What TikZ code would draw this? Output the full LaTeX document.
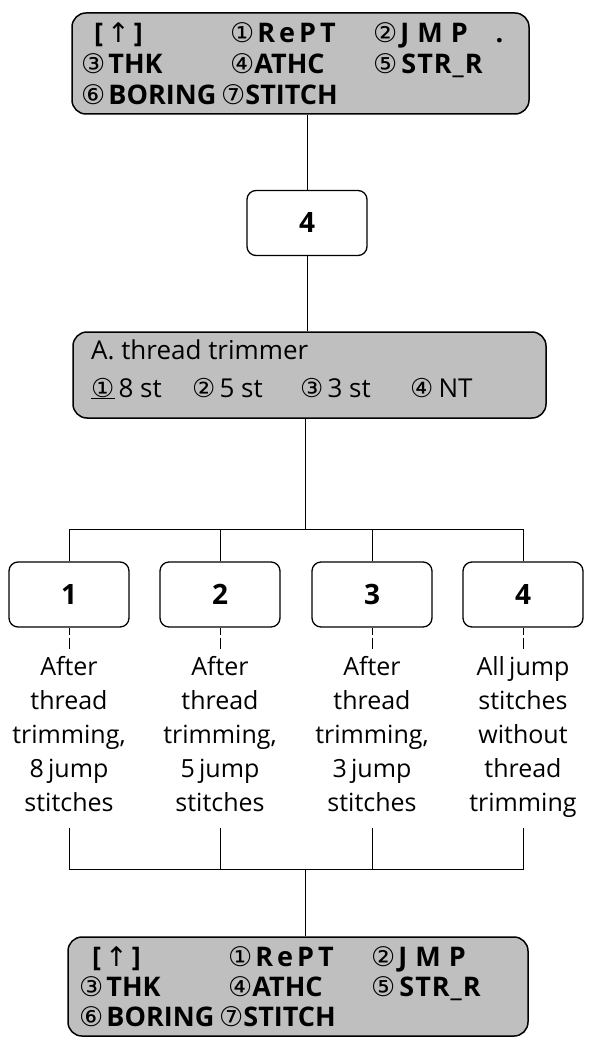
\documentclass[tikz,border=0pt]{standalone}
\usepackage{fontspec}
\setmainfont{Open Sans}
\newfontfamily\symfont{DejaVu Sans}
\newcommand{\cd}[1]{{\symfont\mdseries #1}}
\newcommand{\gapx}[1]{\hspace{#1pt}}
\begin{document}
\begin{tikzpicture}[x=1pt,y=-1pt,
  lcd/.style={draw, line width=1.5pt, rounded corners=14pt, fill=black!25, inner sep=0pt},
  lcdtxt/.style={anchor=base west, inner sep=0pt, font=\bfseries\fontsize{27}{27}\selectfont},
  lcdtxtb/.style={anchor=base west, inner sep=0pt, font=\fontsize{26}{26}\selectfont},
  numbox/.style={draw, line width=1.3pt, rounded corners=9pt, minimum width=120pt, minimum height=65pt, inner sep=0pt, font=\bfseries\fontsize{28}{28}\selectfont},
  desc/.style={align=center, anchor=north, inner sep=0pt, font=\fontsize{25}{34}\selectfont},
  conn/.style={line width=0.9pt},
  tickline/.style={line width=0.9pt, dash pattern=on 7pt off 3pt on 12pt off 2pt}
]
\useasboundingbox (0,0) rectangle (593,1040);

% top LCD
\node[lcd, minimum width=457pt, minimum height=101pt] (lcdA) at (300.5,63.5) {};
\node[lcdtxt] (a1) at (94,43) {[\gapx{4}\cd{↑}\gapx{4}]};
\node[lcdtxt] (a2) at (230,43) {\cd{①}\gapx{3}R\gapx{4}e\gapx{4}P\gapx{4}T};
\node[lcdtxt] (a3) at (373,43) {\cd{②}\gapx{3}J\gapx{8}M\gapx{8}P\gapx{28}.};
\node[lcdtxt] (a4) at (81,74) {\cd{③}\gapx{3}THK};
\node[lcdtxt] (a5) at (230,74) {\cd{④}ATHC};
\node[lcdtxt] (a6) at (373,74) {\cd{⑤}\gapx{4}S\gapx{1}T\gapx{1}R\gapx{1}\_\gapx{1}R};
\node[lcdtxt] (a7) at (81,105) {\cd{⑥}\gapx{3}BORING};
\node[lcdtxt] (a8) at (221,105) {\cd{⑦}STITCH};

% box 4
\node[numbox] (sel) at (307,223) {4};

% second LCD
\node[lcd, minimum width=473pt, minimum height=86pt] (lcdB) at (309.5,375) {};
\node[lcdtxtb] (b1) at (91,359) {A. thread trimmer};
\node[lcdtxtb] (b2) at (91,397) {\underline{\cd{①}}\gapx{4}8 st};
\node[lcdtxtb] (b3) at (192,397) {\cd{②}\gapx{4}5 st};
\node[lcdtxtb] (b4) at (300,397) {\cd{③}\gapx{4}3 st};
\node[lcdtxtb] (b5) at (410,397) {\cd{④}\gapx{5}NT};

% option boxes
\node[numbox] (n1) at (69,594.5) {1};
\node[numbox] (n2) at (220,594.5) {2};
\node[numbox] (n3) at (372,594.5) {3};
\node[numbox] (n4) at (523,594.5) {4};

% descriptions
\node[desc] (t1) at (69,656) {After\\thread\\trimming,\\8\,jump\\stitches};
\node[desc] (t2) at (220,656) {After\\thread\\trimming,\\5\,jump\\stitches};
\node[desc] (t3) at (372,656) {After\\thread\\trimming,\\3\,jump\\stitches};
\node[desc] (t4) at (523,656) {All\,jump\\stitches\\without\\thread\\trimming};

% bottom LCD
\node[lcd, minimum width=460pt, minimum height=99pt] (lcdC) at (298,986.5) {};
\node[lcdtxt] (c1) at (92,966) {[\gapx{4}\cd{↑}\gapx{4}]};
\node[lcdtxt] (c2) at (228,966) {\cd{①}\gapx{3}R\gapx{4}e\gapx{4}P\gapx{4}T};
\node[lcdtxt] (c3) at (371,966) {\cd{②}\gapx{3}J\gapx{8}M\gapx{8}P};
\node[lcdtxt] (c4) at (79,996) {\cd{③}\gapx{3}THK};
\node[lcdtxt] (c5) at (228,996) {\cd{④}ATHC};
\node[lcdtxt] (c6) at (371,996) {\cd{⑤}\gapx{4}S\gapx{1}T\gapx{1}R\gapx{1}\_\gapx{1}R};
\node[lcdtxt] (c7) at (79,1026) {\cd{⑥}\gapx{3}BORING};
\node[lcdtxt] (c8) at (219,1026) {\cd{⑦}STITCH};

% coordinates
\coordinate (busA) at (305,529);
\coordinate (busB) at (305,869);
\coordinate (u1) at (69,828);
\coordinate (u2) at (220,828);
\coordinate (u3) at (372,828);
\coordinate (u4) at (523,828);

% connectors
\draw[conn] (lcdA.south -| sel.north) -- (sel.north);
\draw[conn] (sel.south) -- (sel.south |- lcdB.north);
\draw[conn] (lcdB.south -| busA) -- (busA);
\draw[conn] (n1.north) -- (n1.north |- busA) -- (n4.north |- busA) -- (n4.north);
\draw[conn] (n2.north) -- (n2.north |- busA);
\draw[conn] (n3.north) -- (n3.north |- busA);
\foreach \i in {1,2,3,4} \draw[tickline] (n\i.south) -- ++(0,21);
\draw[conn] (u1) -- (u1 |- busB) -- (u4 |- busB) -- (u4);
\draw[conn] (u2) -- (u2 |- busB);
\draw[conn] (u3) -- (u3 |- busB);
\draw[conn] (busB) -- (busB |- lcdC.north);
\end{tikzpicture}
\end{document}
